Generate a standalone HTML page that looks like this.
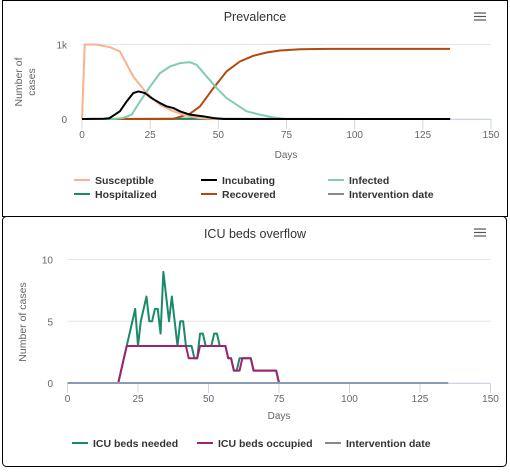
<!DOCTYPE html>
<html><head><meta charset="utf-8"><style>
body{margin:0;background:#fff;font-family:"Liberation Sans",sans-serif;}
svg text{font-family:"Liberation Sans",sans-serif;}
</style></head><body>
<svg id="s" width="510" height="470" xmlns="http://www.w3.org/2000/svg">
<rect x="2.5" y="0.5" width="505" height="216" fill="#fff" stroke="#000"/>
<rect x="2.5" y="216.5" width="504" height="250" rx="4" fill="#fff" stroke="#000"/>
<text x="255" y="21" text-anchor="middle" font-size="12.5" fill="#333">Prevalence</text>
<text x="255" y="238" text-anchor="middle" font-size="12.5" fill="#333">ICU beds overflow</text>
<g stroke="#555" stroke-width="1.2"><line x1="474" y1="13" x2="486" y2="13"/><line x1="474" y1="16.5" x2="486" y2="16.5"/><line x1="474" y1="20" x2="486" y2="20"/></g>
<g stroke="#555" stroke-width="1.2"><line x1="474" y1="229" x2="486" y2="229"/><line x1="474" y1="232.5" x2="486" y2="232.5"/><line x1="474" y1="236" x2="486" y2="236"/></g>
<g id="prevG"></g><g id="icuG"></g>
<text transform="translate(22,82) rotate(-90)" text-anchor="middle" font-size="10.5" fill="#666">Number of</text>
<text transform="translate(35,82) rotate(-90)" text-anchor="middle" font-size="10.5" fill="#666">cases</text>
<text transform="translate(26,322) rotate(-90)" text-anchor="middle" font-size="10.5" fill="#666">Number of cases</text>
<text x="286" y="158" text-anchor="middle" font-size="10" fill="#666">Days</text>
<text x="279" y="419" text-anchor="middle" font-size="10" fill="#666">Days</text>
<g id="legG"></g>
</svg>
<script>
// ---- Prevalence data ----
const susDays=[0,1,5,10.3,13.9,18.8,23.7,28.6,33.5,38.4,43,48,60,135];
const susVals=[0,1000,1000,964,906,571,348,192,103,45,13,3,0,0];
const incDays=[0,8,10,13.9,16.4,18.8,20.7,23.1,25.5,28.6,31,33.5,35.9,39.6,44.5,48,52,135];
const incVals=[0,3,10,103,237,348,370,348,281,214,170,147,103,58,36,13,0,0];
const infDays=[0,12,15,18.2,21.3,25,28.6,32.3,35.9,39.6,42,45.7,49.4,53,56.7,60.4,65.3,70,75,135];
const infVals=[0,2,13,58,237,437,616,705,750,763,728,571,415,281,192,103,58,22,0,0];
const hosDays=[0,20,30,40,50,60,135];
const hosVals=[0,2,4,5,3,1,0];
const recDays=[0,30,33.5,39.6,43.3,48.2,53,57.9,62.8,67.7,72.6,80,90,114,135];
const recVals=[0,0,2,71,170,415,638,772,848,893,920,937,942,942,942];
const intDays=[0,135];
const intVals=[0,0];
const topXTicks=[0,25,50,75,100,125,150];
const topYTicks=[0,1000];
const topYLabels=["0","1k"];
// ---- ICU data ----
const neededSparse={18:0,19:1,20:2,21:3,22:4,23:5,24:6,25:3,26:5,27:6,28:7,29:5,30:5,31:6,32:6,33:4,34:9,35:7,36:5,37:7,38:5,39:3,40:5,41:5,42:3,43:3,44:3,45:2,46:2,47:4,48:4,49:3,50:3,51:3,52:4,53:4,54:3,55:3,56:3,57:2,58:2,59:1,60:1,61:2,62:2,63:2,64:2,65:2,66:1,67:1,68:1,69:1,70:1,71:1,72:1,73:1,74:1,75:0};
const occupiedSparse={18:0,19:1,20:2,21:3,22:3,23:3,24:3,25:3,26:3,27:3,28:3,29:3,30:3,31:3,32:3,33:3,34:3,35:3,36:3,37:3,38:3,39:3,40:3,41:3,42:3,43:2,44:2,45:2,46:2,47:3,48:3,49:3,50:3,51:3,52:3,53:3,54:3,55:3,56:3,57:2,58:2,59:1,60:1,61:1,62:2,63:2,64:2,65:2,66:1,67:1,68:1,69:1,70:1,71:1,72:1,73:1,74:1,75:0};
const icuIntDays=[0,135];
const icuIntVals=[0,0];
const botXTicks=[0,25,50,75,100,125,150];
const botYTicks=[0,5,10];

const NS="http://www.w3.org/2000/svg";
function mk(tag,attrs,parent){const e=document.createElementNS(NS,tag);for(const k in attrs)e.setAttribute(k,attrs[k]);parent.appendChild(e);return e;}
function txt(x,y,s,parent,anchor,size,fill,weight){const t=mk('text',{x:x,y:y,'text-anchor':anchor||'middle','font-size':size||10,fill:fill||'#666'},parent);if(weight)t.setAttribute('font-weight',weight);t.textContent=s;return t;}

const tx=d=>82+d*(491-82)/150, ty=v=>119-v*(119-44.5)/1000;
const prevG=document.getElementById('prevG');
topYTicks.forEach((v,i)=>{
  const g=mk('line',{x1:82,x2:491,y1:ty(v),y2:ty(v),stroke:'#e6e6e6'},prevG);
  
  
  const t=txt(67,ty(v)+4,topYLabels[i],prevG,'end',10);
  
  
});
const ta=mk('line',{x1:82,x2:491,y1:119.5,y2:119.5,stroke:'#ccd6eb'},prevG);


topXTicks.forEach(d=>{
  const l=mk('line',{x1:tx(d),x2:tx(d),y1:119,y2:129,stroke:'#ccd6eb'},prevG);
  
  
  const t=txt(tx(d),138,String(d),prevG);
  
  
});
function series(days,vals,fx,fy,color,name,parent){
  const p=mk('path',{d:days.map((d,i)=>(i?'L':'M')+fx(d).toFixed(2)+','+fy(vals[i]).toFixed(2)).join(''),fill:'none',stroke:color,'stroke-width':2,'stroke-linejoin':'round'},parent);
  
  
}
series(intDays,intVals,tx,ty,'#888','intervention-date-line',prevG);
series(hosDays,hosVals,tx,ty,'#1b8a6b','hospitalized-line',prevG);
series(recDays,recVals,tx,ty,'#b5480b','recovered-line',prevG);
series(infDays,infVals,tx,ty,'#7fcdb0','infected-line',prevG);
series(susDays,susVals,tx,ty,'#f7b38d','susceptible-line',prevG);
series(incDays,incVals,tx,ty,'#000','incubating-line',prevG);

const bx=d=>67.5+d*(490.5-67.5)/150, by=v=>383-v*(383-259.5)/10;
const icuG=document.getElementById('icuG');
botYTicks.forEach(v=>{
  const g=mk('line',{x1:67.5,x2:490.5,y1:by(v),y2:by(v),stroke:'#e6e6e6'},icuG);
  
  
  const t=txt(53,by(v)+4,String(v),icuG,'end',10);
  
  
});
const ba=mk('line',{x1:67.5,x2:490.5,y1:383.5,y2:383.5,stroke:'#ccd6eb'},icuG);


botXTicks.forEach(d=>{
  const l=mk('line',{x1:bx(d),x2:bx(d),y1:383,y2:393,stroke:'#ccd6eb'},icuG);
  
  
  const t=txt(bx(d),402,String(d),icuG);
  
  
});
function sparseSeries(obj){const ds=Object.keys(obj).map(Number).sort((a,b)=>a-b);return [ds,ds.map(d=>obj[d])];}
const nd=sparseSeries(neededSparse), oc=sparseSeries(occupiedSparse);
series(nd[0],nd[1],bx,by,'#1b8a6b','icu-beds-needed-line',icuG);
series(oc[0],oc[1],bx,by,'#a0226a','icu-beds-occupied-line',icuG);
series(icuIntDays,icuIntVals,bx,by,'#8a9bb8','icu-intervention-date-line',icuG);

const legG=document.getElementById('legG');
const topLeg=[["Susceptible","#f7b38d",74,180],["Incubating","#000",201,180],["Infected","#7fcdb0",328,180],["Hospitalized","#1b8a6b",74,194],["Recovered","#b5480b",201,194],["Intervention date","#888",328,194]];
const botLeg=[["ICU beds needed","#1b8a6b",72,443],["ICU beds occupied","#a0226a",197,443],["Intervention date","#888",325,443]];
topLeg.concat(botLeg).forEach(it=>{
  const g=mk('g',{},legG);
  
  
  mk('line',{x1:it[2],x2:it[2]+16,y1:it[3],y2:it[3],stroke:it[1],'stroke-width':2},g);
  txt(it[2]+21,it[3]+4,it[0],g,'start',10.5,'#333','bold');
});
</script>
</body></html>
